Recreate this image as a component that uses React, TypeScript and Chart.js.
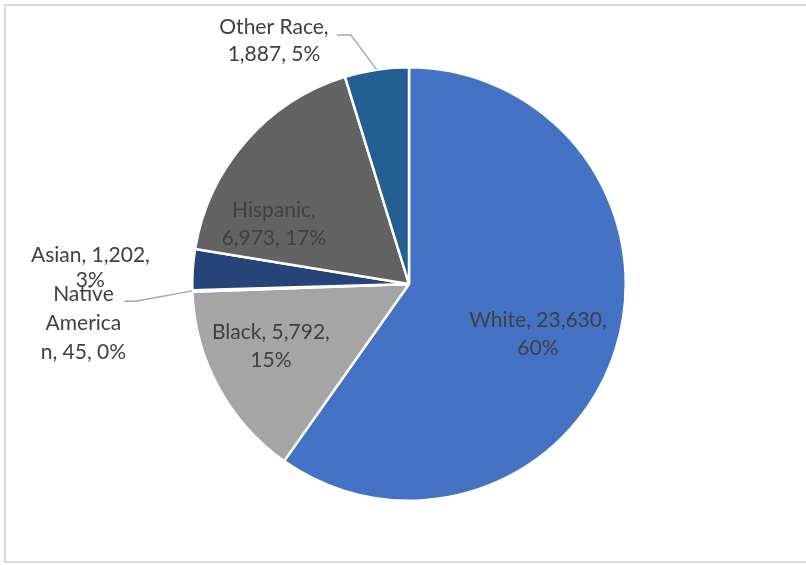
import React, { useEffect, useRef } from "react";
import { Chart, registerables } from "chart.js";

Chart.register(...registerables);

const categories = ["White", "Black", "Native American", "Asian", "Hispanic", "Other Race"];
const values = [23630, 5792, 45, 1202, 6973, 1887];
const percentLabels = ["60%", "15%", "0%", "3%", "17%", "5%"];
const colors = ["#4472C4", "#A5A5A5", "#FFC000", "#264478", "#636363", "#255E91"];

// label text lines per slice
const labelLines = [
  ["White, 23,630,", "60%"],
  ["Black, 5,792,", "15%"],
  ["Native", "America", "n, 45, 0%"],
  ["Asian, 1,202,", "3%"],
  ["Hispanic,", "6,973, 17%"],
  ["Other Race,", "1,887, 5%"],
];
// label anchor relative to pie center, in units of radius
const labelFx = [0.595, -0.637, -1.502, -1.47, -0.623, -0.623];
const labelFy = [0.233, 0.288, 0.181, -0.074, -0.274, -1.121];
const labelLineGap = [28, 28, 29, 25, 28, 27];
// leader lines
const leaderStartDx = [null, null, 41, null, null, 63];
const leaderStartDy = [null, null, -22, null, null, -6];
const leaderElbow = [null, null, 11, null, null, 14];

const FONT = "21px Lato";
const TEXT_COLOR = "#404040";

const labelPlugin = {
  id: "labelPlugin",
  afterDatasetsDraw(chart: any) {
    const ctx = chart.ctx;
    const meta = chart.getDatasetMeta(0);
    ctx.save();
    ctx.font = FONT;
    ctx.fillStyle = TEXT_COLOR;
    ctx.textAlign = "center";
    ctx.textBaseline = "middle";
    meta.data.forEach((arc: any, i: number) => {
      const { x, y, outerRadius, startAngle, endAngle } = arc.getProps(
        ["x", "y", "outerRadius", "startAngle", "endAngle"],
        true
      );
      const ax = x + labelFx[i] * outerRadius;
      const ay = y + labelFy[i] * outerRadius;
      const lines = labelLines[i];
      const gap = labelLineGap[i];
      const top = ay - ((lines.length - 1) * gap) / 2;
      lines.forEach((t, k) => ctx.fillText(t, ax, top + k * gap));
      if (leaderStartDx[i] !== null) {
        const mid = (startAngle + endAngle) / 2;
        const ex = x + Math.cos(mid) * outerRadius;
        const ey = y + Math.sin(mid) * outerRadius;
        const sx = ax + (leaderStartDx[i] as number);
        const sy = ay + (leaderStartDy[i] as number);
        ctx.beginPath();
        ctx.strokeStyle = "#A6A6A6";
        ctx.lineWidth = 1.3;
        ctx.moveTo(sx, sy);
        ctx.lineTo(sx + (leaderElbow[i] as number), sy);
        ctx.lineTo(ex, ey);
        ctx.stroke();
      }
    });
    ctx.restore();
  },
};

const framePlugin = {
  id: "framePlugin",
  afterDraw(chart: any) {
    const ctx = chart.ctx;
    ctx.save();
    ctx.strokeStyle = "#D9D9D9";
    ctx.lineWidth = 2;
    ctx.strokeRect(5, 5, 820, 557);
    ctx.restore();
  },
};

export default function App() {
  const ref = useRef<HTMLCanvasElement | null>(null);
  useEffect(() => {
    document.body.style.margin = "0";
    const chart = new Chart(ref.current as HTMLCanvasElement, {
      type: "pie",
      data: {
        labels: categories,
        datasets: [
          {
            data: values,
            backgroundColor: colors,
            borderColor: "#FFFFFF",
            borderWidth: 2.5,
          },
        ],
      },
      options: {
        animation: false,
        responsive: false,
        rotation: 0,
        layout: { padding: { top: 66, bottom: 63, left: 12, right: 0 } },
        plugins: {
          legend: { display: false },
          tooltip: { enabled: false },
          title: { display: false },
        },
      },
      plugins: [labelPlugin, framePlugin],
    });
    return () => chart.destroy();
  }, []);
  return (
    <div style={{ width: 806, height: 565, background: "#fff" }}>
      <canvas ref={ref} width={806} height={565} style={{ display: "block" }} />
    </div>
  );
}
